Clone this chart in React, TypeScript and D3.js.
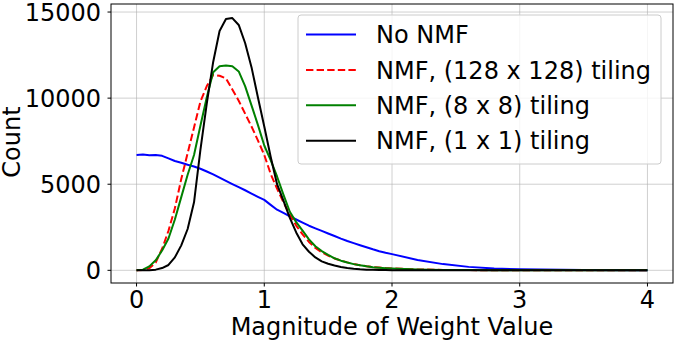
import React from 'react';
import * as d3 from 'd3';

// shared x grid (magnitude of weight value)
const magnitudes = [
  0, 0.05, 0.1, 0.15, 0.2, 0.25, 0.3, 0.35, 0.4, 0.45,
  0.5, 0.55, 0.6, 0.65, 0.7, 0.75, 0.8, 0.85, 0.9, 0.95,
  1.0, 1.05, 1.1, 1.15, 1.2, 1.25, 1.3, 1.35, 1.4, 1.45,
  1.5, 1.55, 1.6, 1.65, 1.7, 1.75, 1.8, 1.85, 1.9, 1.95,
  2.0, 2.2, 2.4, 2.6, 2.8, 3.0, 3.5, 4.0,
];

const noNmf = [
  6700, 6720, 6680, 6700, 6650, 6500, 6350, 6250, 6130, 6030,
  5900, 5740, 5570, 5380, 5190, 5010, 4830, 4650, 4460, 4270,
  4090, 3800, 3520, 3330, 3130, 2950, 2770, 2590, 2440, 2290,
  2140, 1990, 1840, 1700, 1580, 1460, 1340, 1220, 1110, 1020,
  940, 600, 360, 200, 105, 55, 12, 0,
];

const nmf128 = [
  0, 20, 120, 450, 1250, 2300, 3600, 5300, 6800, 8300,
  9800, 10700, 11350, 11300, 11150, 10500, 9850, 9100, 8350, 7550,
  6700, 5600, 4750, 3950, 3230, 2600, 2090, 1650, 1300, 1050,
  850, 690, 570, 460, 370, 300, 240, 190, 160, 130,
  110, 50, 25, 12, 6, 3, 1, 0,
];

const nmf8 = [
  0, 40, 230, 580, 1150, 1850, 2950, 4250, 5550, 6700,
  8400, 10050, 11500, 11850, 11900, 11850, 11550, 10700, 9580, 8450,
  7250, 6400, 5450, 4400, 3400, 2800, 2300, 1800, 1400, 1120,
  900, 700, 560, 450, 360, 290, 230, 180, 150, 125,
  105, 50, 25, 12, 6, 3, 1, 0,
];

const nmf1 = [
  0, 0, 10, 40, 130, 310, 750, 1450, 2400, 3950,
  7000, 9700, 12100, 13900, 14590, 14650, 14250, 13200, 11800, 10050,
  8350, 6600, 5000, 4050, 3050, 2200, 1510, 1080, 750, 520,
  380, 280, 190, 130, 85, 55, 40, 28, 20, 14,
  10, 4, 2, 1, 0, 0, 0, 0,
];

const xTicks = [0, 1, 2, 3, 4];
const yTicks = [0, 5000, 10000, 15000];

const series = [
  { name: 'No NMF', values: noNmf, color: '#0000ff', dash: null },
  { name: 'NMF, (128 x 128) tiling', values: nmf128, color: '#ff0000', dash: '7.4,3.2' },
  { name: 'NMF, (8 x 8) tiling', values: nmf8, color: '#008000', dash: null },
  { name: 'NMF, (1 x 1) tiling', values: nmf1, color: '#000000', dash: null },
];

const W = 677;
const H = 341;
const left = 111, right = 673, top = 4, bottom = 283;
const font = 'DejaVu Sans, sans-serif';
const fs = 24;

export default function App() {
  const x = d3.scaleLinear().domain([-0.2, 4.2]).range([left, right]);
  const yMax = 14730;
  const y = d3.scaleLinear().domain([-yMax * 0.05, yMax * 1.05]).range([bottom, top]);

  const line = d3.line<number>()
    .x((_, i) => x(magnitudes[i]))
    .y(d => y(d));

  return (
    <svg width={W} height={H} style={{ position: 'absolute', left: 0, top: 0 }} fontFamily={font}>
      <rect x={0} y={0} width={W} height={H} fill="#fff" />
      {/* grid */}
      {xTicks.map(t => (
        <line key={'gx' + t} x1={x(t)} x2={x(t)} y1={top} y2={bottom} stroke="#b0b0b0" strokeOpacity={0.6} strokeWidth={1} />
      ))}
      {yTicks.map(t => (
        <line key={'gy' + t} x1={left} x2={right} y1={y(t)} y2={y(t)} stroke="#b0b0b0" strokeOpacity={0.6} strokeWidth={1} />
      ))}

      <defs>
        <clipPath id="plot">
          <rect x={left} y={top} width={right - left} height={bottom - top} />
        </clipPath>
      </defs>
      <g clipPath="url(#plot)">
        {series.map(s => (
          <path key={s.name} d={line(s.values) || ''} fill="none" stroke={s.color}
            strokeWidth={2} strokeDasharray={s.dash || undefined} strokeLinejoin="round" />
        ))}
      </g>

      {/* frame */}
      <rect x={left} y={top} width={right - left} height={bottom - top} fill="none" stroke="#000" strokeWidth={1} />

      {/* x axis */}
      {xTicks.map(t => (
        <g key={'xt' + t}>
          <line x1={x(t)} x2={x(t)} y1={bottom} y2={bottom + 3.5} stroke="#000" />
          <text x={x(t)} y={308} textAnchor="middle" fontSize={fs} fill="#000">{t}</text>
        </g>
      ))}
      <text x={(left + right) / 2} y={335} textAnchor="middle" fontSize={fs} fill="#000">Magnitude of Weight Value</text>

      {/* y axis */}
      {yTicks.map(t => (
        <g key={'yt' + t}>
          <line x1={left - 3.5} x2={left} y1={y(t)} y2={y(t)} stroke="#000" />
          <text x={101} y={y(t)} dy="0.36em" textAnchor="end" fontSize={fs} fill="#000">{t}</text>
        </g>
      ))}
      <text transform={`translate(19.5,142) rotate(-90)`} textAnchor="middle" fontSize={fs} fill="#000">Count</text>

      {/* legend */}
      <rect x={298} y={15} width={363} height={149} rx={3} fill="#fff" fillOpacity={0.8} stroke="#cccccc" strokeWidth={1} />
      {series.map((s, i) => {
        const ly = 34.5 + i * 35.4;
        return (
          <g key={'lg' + s.name}>
            <line x1={306} x2={356} y1={ly} y2={ly} stroke={s.color} strokeWidth={2} strokeDasharray={s.dash || undefined} />
            <text x={376} y={ly} dy="0.36em" fontSize={fs} fill="#000">{s.name}</text>
          </g>
        );
      })}
    </svg>
  );
}
